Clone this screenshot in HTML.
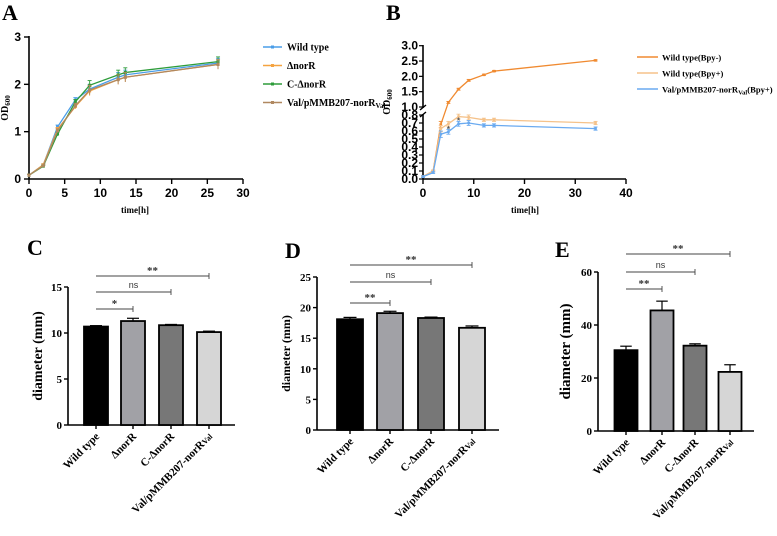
<!DOCTYPE html>
<html><head><meta charset="utf-8"><style>
body{margin:0;background:#fff}
svg{display:block}
.ser{font-family:"Liberation Serif",serif;font-weight:bold}
.san{font-family:"Liberation Sans",sans-serif;font-weight:bold}
</style></head><body>
<svg id="fig" width="777" height="536" viewBox="0 0 777 536" xmlns="http://www.w3.org/2000/svg">
<text class="ser" x="2" y="20" font-size="22">A</text>
<text class="ser" x="386" y="20" font-size="22">B</text>
<text class="ser" x="27" y="255" font-size="22">C</text>
<text class="ser" x="285" y="258" font-size="22">D</text>
<text class="ser" x="555" y="257" font-size="22">E</text>
<g id="gA"></g>
<g id="gB"></g>
<g id="gC"></g>
<g id="gD"></g>
<g id="gE"></g>
</svg>
<script>
// Panel A data
const timesA = [0, 2, 4, 6.5, 8.5, 12.5, 13.5, 26.5];
const wildTypeA = [0.08, 0.3, 1.1, 1.67, 1.9, 2.15, 2.2, 2.45];
const norRA = [0.08, 0.3, 1.05, 1.53, 1.86, 2.1, 2.15, 2.42];
const cNorRA = [0.08, 0.27, 0.95, 1.63, 1.98, 2.2, 2.25, 2.48];
const valA = [0.08, 0.28, 1.02, 1.55, 1.88, 2.1, 2.15, 2.42];
const errA = [0.02, 0.02, 0.04, 0.05, 0.1, 0.1, 0.1, 0.1];
const xTicksA = [0, 5, 10, 15, 20, 25, 30];
const yTicksA = [0, 1, 2, 3];
// Panel B data
const timesB = [0, 2, 3.5, 5, 7, 9, 12, 14, 34];
const wtMinusB = [0.03, 0.1, 0.68, 1.15, 1.58, 1.87, 2.05, 2.17, 2.52];
const wtPlusB = [0.03, 0.1, 0.63, 0.69, 0.78, 0.77, 0.74, 0.74, 0.70];
const valB = [0.03, 0.08, 0.56, 0.59, 0.69, 0.70, 0.67, 0.67, 0.63];
const errB = [0.01, 0.01, 0.04, 0.03, 0.03, 0.03, 0.02, 0.02, 0.02];
const xTicksB = [0, 10, 20, 30, 40];
const yTicksBLow = [0, 0.1, 0.2, 0.3, 0.4, 0.5, 0.6, 0.7, 0.8];
const yTicksBHigh = [1.0, 1.5, 2.0, 2.5, 3.0];
// Bar charts
const groups = ["Wild type", "\u0394norR", "C-\u0394norR", "Val/pMMB207-norR"];
const cValues = [10.7, 11.3, 10.85, 10.1];
const cErr = [0.1, 0.3, 0.08, 0.1];
const cTicks = [0, 5, 10, 15];
const dValues = [18.1, 19.1, 18.3, 16.7];
const dErr = [0.3, 0.3, 0.15, 0.3];
const dTicks = [0, 5, 10, 15, 20, 25];
const eValues = [30.5, 45.5, 32.2, 22.3];
const eErr = [1.5, 3.5, 0.7, 2.7];
const eTicks = [0, 20, 40, 60];
const cSig = ["*", "ns", "**"];
const dSig = ["**", "ns", "**"];
const eSig = ["**", "ns", "**"];

const NS = "http://www.w3.org/2000/svg";
function mk(parent, tag, attrs, text){
  const e = document.createElementNS(NS, tag);
  for (const k in attrs) e.setAttribute(k, attrs[k]);
  if (text !== undefined) e.textContent = text;
  parent.appendChild(e); return e;
}
function lin(d0,d1,r0,r1){return v=>r0+(v-d0)*(r1-r0)/(d1-d0);}

// ---------- Panel A ----------
(function(){
  const g = document.getElementById('gA');
  const x = lin(0,30,29,243), y = lin(0,3,179,37);
  let e;
  e = mk(g,'line',{x1:29,y1:179,x2:243,y2:179,stroke:'#000','stroke-width':1.6});
   
  e = mk(g,'line',{x1:29,y1:179,x2:29,y2:36,stroke:'#000','stroke-width':1.6});
   
  xTicksA.forEach(t=>{
    mk(g,'line',{x1:x(t),y1:179,x2:x(t),y2:184,stroke:'#000','stroke-width':1.4});
    e = mk(g,'text',{x:x(t),y:197,'text-anchor':'middle','font-size':12,class:'san'},t);
     
  });
  yTicksA.forEach(t=>{
    mk(g,'line',{x1:24,y1:y(t),x2:29,y2:y(t),stroke:'#000','stroke-width':1.4});
    e = mk(g,'text',{x:21,y:y(t)+4,'text-anchor':'end','font-size':12,class:'san'},t);
     
  });
  e = mk(g,'text',{x:135,y:213,'text-anchor':'middle','font-size':9,class:'ser'},'time[h]');
   
  e = mk(g,'text',{transform:'translate(8,108) rotate(-90)','text-anchor':'middle','font-size':10,class:'ser'});
  e.innerHTML='OD<tspan font-size="7" dy="2">600</tspan>';
   
  const series = [[wildTypeA,'#4a9de8','wild-type'],[norRA,'#f5a340','delta-norr'],[cNorRA,'#2e9c3a','c-delta-norr'],[valA,'#b08860','val-pmmb207']];
  series.forEach(([vals,col,nm])=>{
    const l = mk(g,'polyline',{points:vals.map((v,i)=>x(timesA[i])+','+y(v)).join(' '),fill:'none',stroke:col,'stroke-width':1.3});
     
    vals.forEach((v,i)=>{
      const cx=x(timesA[i]), cy=y(v), ey=errA[i]*47;
      mk(g,'line',{x1:cx,y1:cy-ey,x2:cx,y2:cy+ey,stroke:col,'stroke-width':0.9});
      mk(g,'line',{x1:cx-2,y1:cy-ey,x2:cx+2,y2:cy-ey,stroke:col,'stroke-width':0.9});
      const p = mk(g,'rect',{x:cx-1.5,y:cy-1.5,width:3,height:3,fill:col});
       
    });
  });
  const leg = [['Wild type','#4a9de8'],['\u0394norR','#f5a340'],['C-\u0394norR','#2e9c3a'],['Val/pMMB207-norR','#b08860']];
  leg.forEach(([lab,col],i)=>{
    const yy = 47+i*18.5;
    mk(g,'line',{x1:263,y1:yy,x2:282,y2:yy,stroke:col,'stroke-width':1.5});
    mk(g,'rect',{x:271,y:yy-1.5,width:3,height:3,fill:col});
    const t = mk(g,'text',{x:287,y:yy+3.5,'font-size':10,class:'ser'});
    t.innerHTML = i===3 ? lab+'<tspan font-size="7" dy="2">Val</tspan>' : lab;
     
  });
})();

// ---------- Panel B ----------
(function(){
  const g = document.getElementById('gB');
  const x = lin(0,40,423,626);
  const yLo = lin(0,0.8,179,115), yHi = lin(1,3,107,45.7);
  const y = v => v<=0.9 ? yLo(Math.min(v,0.8)) : yHi(v);
  let e;
  e = mk(g,'line',{x1:423,y1:179,x2:626,y2:179,stroke:'#000','stroke-width':1.6});
   
  e = mk(g,'line',{x1:423,y1:179,x2:423,y2:114,stroke:'#000','stroke-width':1.6});
   
  e = mk(g,'line',{x1:423,y1:108,x2:423,y2:45,stroke:'#000','stroke-width':1.6});
   
  mk(g,'line',{x1:420,y1:110,x2:426,y2:105,stroke:'#000','stroke-width':1.4});
  mk(g,'line',{x1:420,y1:117,x2:426,y2:112,stroke:'#000','stroke-width':1.4});
  xTicksB.forEach(t=>{
    mk(g,'line',{x1:x(t),y1:179,x2:x(t),y2:184,stroke:'#000','stroke-width':1.4});
    e = mk(g,'text',{x:x(t),y:197,'text-anchor':'middle','font-size':12,class:'san'},t);
     
  });
  yTicksBLow.forEach(t=>{
    mk(g,'line',{x1:419,y1:yLo(t),x2:423,y2:yLo(t),stroke:'#000','stroke-width':1.2});
    e = mk(g,'text',{x:418,y:yLo(t)+4,'text-anchor':'end','font-size':12,class:'san'},t.toFixed(1));
     
  });
  yTicksBHigh.forEach(t=>{
    mk(g,'line',{x1:419,y1:yHi(t),x2:423,y2:yHi(t),stroke:'#000','stroke-width':1.2});
    e = mk(g,'text',{x:418,y:yHi(t)+4,'text-anchor':'end','font-size':12,class:'san'},t.toFixed(1));
     
  });
  e = mk(g,'text',{x:525,y:213,'text-anchor':'middle','font-size':9,class:'ser'},'time[h]');
   
  e = mk(g,'text',{transform:'translate(390,102) rotate(-90)','text-anchor':'middle','font-size':10,class:'ser'});
  e.innerHTML='OD<tspan font-size="7" dy="2">600</tspan>';
   
  const series = [[wtMinusB,'#f08a30','wt-bpy-minus'],[wtPlusB,'#f5c28a','wt-bpy-plus'],[valB,'#6aaaf0','val-bpy-plus']];
  series.forEach(([vals,col,nm])=>{
    const l = mk(g,'polyline',{points:vals.map((v,i)=>x(timesB[i])+','+y(v)).join(' '),fill:'none',stroke:col,'stroke-width':1.3});
     
    vals.forEach((v,i)=>{
      const cx=x(timesB[i]), cy=y(v), ey=errB[i]*(v>0.9?31:80);
      mk(g,'line',{x1:cx,y1:cy-ey,x2:cx,y2:cy+ey,stroke:col,'stroke-width':0.9});
      mk(g,'line',{x1:cx-2,y1:cy-ey,x2:cx+2,y2:cy-ey,stroke:col,'stroke-width':0.9});
      mk(g,'line',{x1:cx-2,y1:cy+ey,x2:cx+2,y2:cy+ey,stroke:col,'stroke-width':0.9});
      const p = mk(g,'rect',{x:cx-1.3,y:cy-1.3,width:2.6,height:2.6,fill:col});
       
    });
  });
  mk(g,'text',{x:x(5),y:yLo(0.61)+2,'text-anchor':'middle','font-size':8,class:'san',fill:'#555'},'*');
  mk(g,'text',{x:x(7),y:yLo(0.72)+2,'text-anchor':'middle','font-size':8,class:'san',fill:'#555'},'*');
  const leg = [['Wild type(Bpy-)','#f08a30'],['Wild type(Bpy+)','#f5c28a'],['Val/pMMB207-norR','#6aaaf0']];
  leg.forEach(([lab,col],i)=>{
    const yy = 57+i*16;
    mk(g,'line',{x1:637,y1:yy,x2:658,y2:yy,stroke:col,'stroke-width':1.5});
    const t = mk(g,'text',{x:662,y:yy+3.5,'font-size':8.6,class:'ser'});
    t.innerHTML = i===2 ? lab+'<tspan font-size="6.5" dy="2">Val</tspan><tspan dy="-2">(Bpy+)</tspan>' : lab;
     
  });
})();

// ---------- Bar charts ----------
const fills = ['#000000','#a1a1a6','#777777','#d6d6d6'];
function barChart(id, vals, errs, ticks, sig, o){
  const g = document.getElementById(id);
  const ymax = ticks[ticks.length-1];
  const y = lin(0,ymax,o.y0,o.yTop);
  let e;
  e = mk(g,'line',{x1:o.ax,y1:o.y0,x2:o.xEnd,y2:o.y0,stroke:'#000','stroke-width':1.6});
   
  e = mk(g,'line',{x1:o.ax,y1:o.y0,x2:o.ax,y2:o.yTop,stroke:'#000','stroke-width':1.6});
   
  ticks.forEach(t=>{
    mk(g,'line',{x1:o.ax-4,y1:y(t),x2:o.ax,y2:y(t),stroke:'#000','stroke-width':1.4});
    e = mk(g,'text',{x:o.ax-6,y:y(t)+4,'text-anchor':'end','font-size':11,class:'ser'},t);
     
  });
  e = mk(g,'text',{transform:`translate(${o.ax-o.titleOff},${(o.y0+o.yTop)/2}) rotate(-90)`,'text-anchor':'middle','font-size':o.titleSize,class:'ser'},'diameter (mm)');
   
  vals.forEach((v,i)=>{
    const cx = o.cx[i];
    const ey = y(v+errs[i]);
    mk(g,'line',{x1:cx,y1:y(v),x2:cx,y2:ey,stroke:'#000','stroke-width':1.2});
    mk(g,'line',{x1:cx-o.bw/4,y1:ey,x2:cx+o.bw/4,y2:ey,stroke:'#000','stroke-width':1.2});
    const r = mk(g,'rect',{x:cx-o.bw/2,y:y(v),width:o.bw,height:o.y0-y(v),fill:fills[i],stroke:'#000','stroke-width':1.8});
     
    mk(g,'line',{x1:cx,y1:o.y0,x2:cx,y2:o.y0+4,stroke:'#000','stroke-width':1.4});
    const t = mk(g,'text',{transform:`translate(${cx+4},${o.y0+12}) rotate(-45)`,'text-anchor':'end','font-size':11,class:'ser'});
    t.innerHTML = i===3 ? groups[i]+'<tspan font-size="8">Val</tspan>' : groups[i];
     
  });
  sig.forEach((s,k)=>{
    const yy = o.brY[k], x2 = o.cx[k+1];
    const b = mk(g,'line',{x1:o.cx[0],y1:yy,x2:x2,y2:yy,stroke:'#444','stroke-width':0.9});
     
    mk(g,'line',{x1:x2,y1:yy-3,x2:x2,y2:yy+3,stroke:'#444','stroke-width':0.9});
    const isNs = s==='ns';
    const t = mk(g,'text',{x:(o.cx[0]+x2)/2,y:yy-(isNs?4:2),'text-anchor':'middle','font-size':isNs?9:11,class:isNs?'':'ser','font-family':'Liberation Sans, sans-serif',fill:'#333'},s);
     
  });
}
barChart('gC', cValues, cErr, cTicks, cSig, {ax:68,xEnd:235,y0:425,yTop:287,cx:[96,133,171,209],bw:24,brY:[309,292,276],titleOff:26,titleSize:14});
barChart('gD', dValues, dErr, dTicks, dSig, {ax:317,xEnd:499,y0:430,yTop:277,cx:[350,390,431,472],bw:26,brY:[303,282,265],titleOff:27,titleSize:12});
barChart('gE', eValues, eErr, eTicks, eSig, {ax:598,xEnd:754,y0:431,yTop:272,cx:[626,662,695,730],bw:23,brY:[289,272,254],titleOff:28,titleSize:15});
</script>
</body></html>
